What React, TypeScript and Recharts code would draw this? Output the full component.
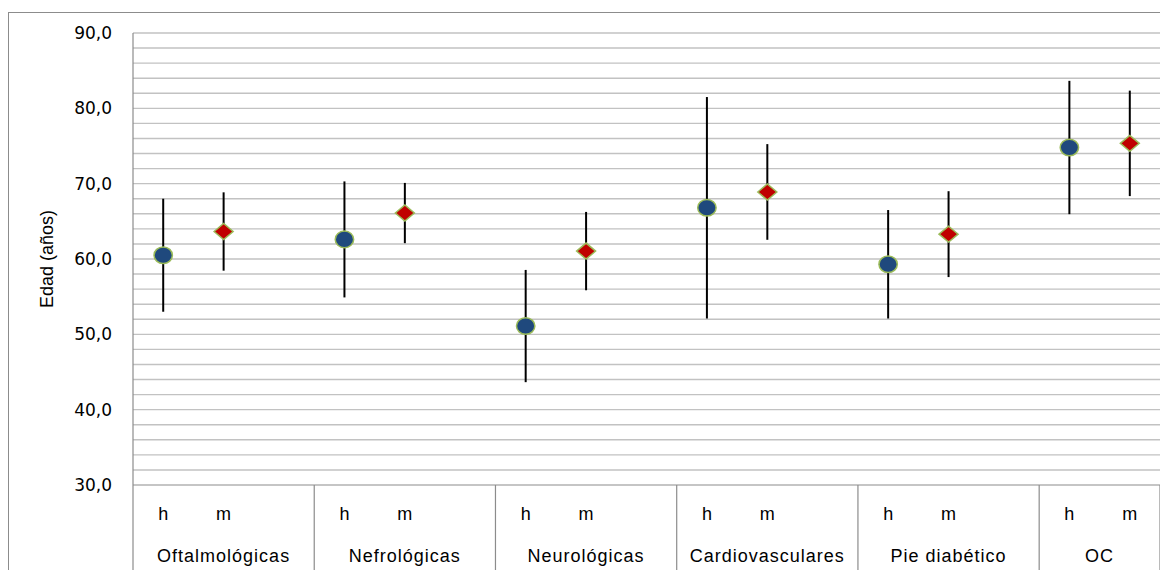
import React from 'react';
import { ScatterChart, Scatter, XAxis, YAxis, ReferenceLine, ErrorBar } from 'recharts';

const categories = ['Oftalmológicas', 'Nefrológicas', 'Neurológicas', 'Cardiovasculares', 'Pie diabético', 'OC'];
// slot edges of each category on the x scale (OC is cut short in the original)
const categoryEdges = [0, 3, 6, 9, 12, 15, 17];

const hMean = [60.5, 62.6, 51.1, 66.8, 59.3, 74.8];
const hErr = [7.5, 7.7, 7.45, 14.7, 7.2, 8.85];
const mMean = [63.65, 66.1, 61.05, 68.9, 63.3, 75.35];
const mErr = [5.2, 4.0, 5.2, 6.35, 5.7, 7.0];

const yTicks = [30, 40, 50, 60, 70, 80, 90];
const gridValues = [32, 34, 36, 38, 40, 42, 44, 46, 48, 50, 52, 54, 56, 58, 60, 62, 64, 66, 68, 70, 72, 74, 76, 78, 80, 82, 84, 86, 88, 90];

const hData = categories.map((c, i) => ({ x: categoryEdges[i] + 0.5, y: hMean[i], err: hErr[i] }));
const mData = categories.map((c, i) => ({ x: categoryEdges[i] + 1.5, y: mMean[i], err: mErr[i] }));

type TickInfo = { edge?: boolean; sub?: string; cat?: string };
const tickInfo = new Map<number, TickInfo>();
const addTick = (v: number, info: TickInfo) => tickInfo.set(v, { ...(tickInfo.get(v) || {}), ...info });
categoryEdges.forEach((e) => addTick(e, { edge: true }));
categories.forEach((c, i) => {
  addTick(categoryEdges[i] + 0.5, { sub: 'h' });
  addTick(categoryEdges[i] + 1.5, { sub: 'm' });
  addTick((categoryEdges[i] + categoryEdges[i + 1]) / 2, { cat: c });
});
const xTicks = Array.from(tickInfo.keys()).sort((a, b) => a - b);

const labelFont = '"Liberation Sans", Arial, sans-serif';

const AxisTick = (props: any) => {
  const { x, y, payload } = props;
  const info = tickInfo.get(payload.value) || {};
  return (
    <g>
      {info.edge && <line x1={x} x2={x} y1={y} y2={y + 100} stroke="#8c8c8c" strokeWidth={1.2} />}
      {info.sub && (
        <text x={x} y={y + 35} textAnchor="middle" fontFamily={labelFont} fontSize={18} fill="#000">
          {info.sub}
        </text>
      )}
      {info.cat && (
        <text x={x} y={y + 77} textAnchor="middle" fontFamily={labelFont} fontSize={18} letterSpacing={1} fill="#000">
          {info.cat}
        </text>
      )}
    </g>
  );
};

const Circle = (props: any) => (
  <ellipse cx={props.cx} cy={props.cy} rx={9.2} ry={8.3} fill="#1f497d" stroke="#9bbb59" strokeWidth={1.5} />
);

const Diamond = (props: any) => {
  const { cx, cy } = props;
  return (
    <polygon
      points={`${cx - 9.5},${cy} ${cx},${cy - 8} ${cx + 9.5},${cy} ${cx},${cy + 8}`}
      fill="#c00000"
      stroke="#9bbb59"
      strokeWidth={1.5}
    />
  );
};

export default function App() {
  return (
    <div style={{ position: 'relative', width: 1160, height: 562, overflow: 'hidden' }}>
      <style>{'html, body { overflow: hidden; }'}</style>
      <div style={{ position: 'absolute', left: 0, top: 4, width: 1240, height: 640, border: '1px solid #8c8c8c' }} />
      <div style={{ position: 'absolute', left: 0, top: 0 }}>
        <ScatterChart width={1160} height={562} margin={{ top: 25, right: 8, left: 0, bottom: 0 }}>
          {gridValues.map((v) => (
            <ReferenceLine key={v} y={v} stroke="#c2c2c2" strokeWidth={1.4} />
          ))}
          <XAxis
            type="number"
            dataKey="x"
            domain={[0, 17]}
            ticks={xTicks}
            interval={0}
            height={85}
            tickSize={0}
            tickMargin={0}
            tickLine={false}
            axisLine={{ stroke: '#8c8c8c', strokeWidth: 1.2 }}
            tick={<AxisTick />}
          />
          <YAxis
            type="number"
            dataKey="y"
            domain={[30, 90]}
            ticks={yTicks}
            width={125}
            tickSize={0}
            tickMargin={21}
            tickLine={false}
            axisLine={{ stroke: '#8c8c8c', strokeWidth: 1.2 }}
            tickFormatter={(v: number) => v.toFixed(1).replace('.', ',')}
            tick={{ fill: '#000', fontSize: 17, fontFamily: '"DejaVu Sans", Verdana, sans-serif' }}
            label={({ viewBox }: any) => (
              <text
                x={39}
                y={viewBox.y + viewBox.height / 2}
                transform={`rotate(-90, 39, ${viewBox.y + viewBox.height / 2})`}
                textAnchor="middle"
                dominantBaseline="central"
                fontFamily={labelFont}
                fontSize={18}
                fill="#000"
              >
                Edad (años)
              </text>
            )}
          />
          <Scatter data={hData} shape={<Circle />} isAnimationActive={false}>
            <ErrorBar dataKey="err" direction="y" width={0} stroke="#000" strokeWidth={2} isAnimationActive={false} />
          </Scatter>
          <Scatter data={mData} shape={<Diamond />} isAnimationActive={false}>
            <ErrorBar dataKey="err" direction="y" width={0} stroke="#000" strokeWidth={2} isAnimationActive={false} />
          </Scatter>
        </ScatterChart>
      </div>
    </div>
  );
}
